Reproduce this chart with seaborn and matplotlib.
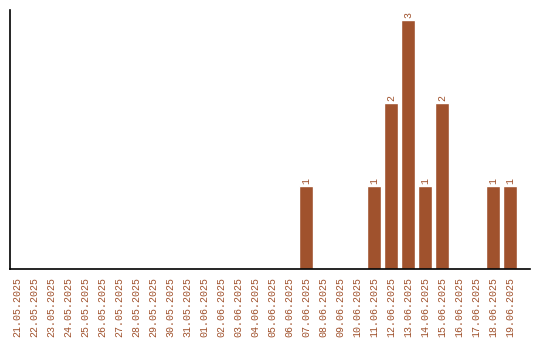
import matplotlib
matplotlib.use("Agg")
import matplotlib.pyplot as plt
import seaborn as sns
import pandas as pd

dates = ["21.05.2025", "22.05.2025", "23.05.2025", "24.05.2025", "25.05.2025",
         "26.05.2025", "27.05.2025", "28.05.2025", "29.05.2025", "30.05.2025",
         "31.05.2025", "01.06.2025", "02.06.2025", "03.06.2025", "04.06.2025",
         "05.06.2025", "06.06.2025", "07.06.2025", "08.06.2025", "09.06.2025",
         "10.06.2025", "11.06.2025", "12.06.2025", "13.06.2025", "14.06.2025",
         "15.06.2025", "16.06.2025", "17.06.2025", "18.06.2025", "19.06.2025"]
counts = [0, 0, 0, 0, 0, 0, 0, 0, 0, 0,
          0, 0, 0, 0, 0, 0, 0, 1, 0, 0,
          0, 1, 2, 3, 1, 2, 0, 0, 1, 1]

color = "#a0522d"
sns.set_style("white")
plt.rcParams['font.family'] = ['Liberation Mono', 'DejaVu Sans Mono']

df = pd.DataFrame({"date": dates, "count": counts})
fig = plt.figure(figsize=(5.4, 3.4), dpi=100)
ax = fig.add_axes([10/540, (340-269)/340, 520/540, 259/340])
sns.barplot(data=df, x="date", y="count", color=color, saturation=1, width=0.84, ax=ax)

for cont in ax.containers:
    labels = [str(v) if v > 0 else "" for v in counts]
    ax.bar_label(cont, labels=labels, rotation=90, padding=1.5, fontsize=7.2, color=color)

ax.set_xlim(-0.41, 30.18)
ax.set_ylim(0, 3.12)
ax.set_xlabel("")
ax.set_ylabel("")
ax.set_yticks([])
ax.tick_params(axis="x", length=0, pad=5.5, labelsize=7.2, labelcolor=color, rotation=90)
for lbl in ax.get_xticklabels():
    lbl.set_va("top")
    lbl.set_ha("center")
for s in ["top", "right"]:
    ax.spines[s].set_visible(False)
for s in ["left", "bottom"]:
    ax.spines[s].set_color("black")
    ax.spines[s].set_linewidth(1.2)

fig.savefig("out.png", dpi=100)
